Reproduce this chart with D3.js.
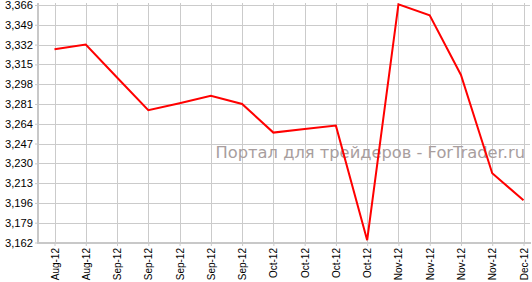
<!DOCTYPE html>
<html><head><meta charset="utf-8">
<script src="https://cdn.jsdelivr.net/npm/d3@7"></script>
<style>body{margin:0;background:#fff}svg{display:block}</style>
</head><body>
<script>
const categories = ["Aug-12","Aug-12","Sep-12","Sep-12","Sep-12","Sep-12","Sep-12","Oct-12","Oct-12","Oct-12","Oct-12","Nov-12","Nov-12","Nov-12","Nov-12","Dec-12"];
const values = [3328, 3332, 3303.7, 3275.6, 3281.6, 3288.1, 3281, 3256.4, 3259.4, 3262.4, 3164, 3366.5, 3357.2, 3305.9, 3221.5, 3198.3];
const yTicks = [3162,3179,3196,3213,3230,3247,3264,3281,3298,3315,3332,3349,3366];
const watermark = "Портал для трейдеров - ForTrader.ru";

const W = 532, H = 282;
const svg = d3.select("body").append("svg").attr("width", W).attr("height", H);
const x = d3.scalePoint().domain(d3.range(categories.length)).range([54.5, 523.5]);
const y = d3.scaleLinear().domain([3162, 3366]).range([242.5, 5]);
const grid = "#cbcbcb";
const font = "DejaVu Sans, Verdana, sans-serif";
const lblFont = "Liberation Sans, Arial, sans-serif";

// grid
svg.append("g").selectAll("line").data(yTicks).join("line")
  .attr("x1", 38).attr("x2", 530).attr("y1", d => Math.round(y(d)) + 0.5).attr("y2", d => Math.round(y(d)) + 0.5)
  .attr("stroke", grid).attr("stroke-width", 1);
svg.append("g").selectAll("line").data(d3.range(categories.length)).join("line")
  .attr("y1", 3).attr("y2", 243).attr("x1", d => Math.round(x(d)) + 0.5).attr("x2", d => Math.round(x(d)) + 0.5)
  .attr("stroke", grid).attr("stroke-width", 1);

// watermark
svg.append("text").attr("x", 525).attr("y", 158).attr("text-anchor", "end")
  .attr("font-family", font).attr("font-size", 16.3).attr("fill", "#a89e9e").text(watermark);

// y axis
const yAxis = d3.axisLeft(y).tickValues(yTicks).tickSize(3).tickPadding(2)
  .tickFormat(d => d3.format(",")(d));
const gy = svg.append("g").attr("transform", "translate(38,0)").call(yAxis);
gy.select(".domain").attr("stroke", "#c8c8c8").attr("stroke-width", 2).attr("d", "M0,3V243");
gy.selectAll(".tick line").attr("stroke", "#c8c8c8");
gy.selectAll("text").attr("font-family", lblFont).attr("font-size", 11.2).attr("fill", "#000");

// x axis
const xAxis = d3.axisBottom(x).tickSize(3).tickPadding(4).tickFormat(i => categories[i]);
const gx = svg.append("g").attr("transform", "translate(0,243)").call(xAxis);
gx.select(".domain").attr("stroke", "#c8c8c8").attr("stroke-width", 2).attr("d", "M37,0H531");
gx.selectAll(".tick line").attr("stroke", "#c8c8c8");
gx.selectAll("text").attr("font-family", lblFont).attr("font-size", 10).attr("fill", "#000")
  .attr("transform", "rotate(-90)").attr("text-anchor", "end").attr("dy", "0.35em").attr("x", -5).attr("y", 0);

// line
svg.append("path").datum(values)
  .attr("d", d3.line().x((d, i) => x(i)).y(d => y(d)))
  .attr("fill", "none").attr("stroke", "#ff0000").attr("stroke-width", 2).attr("stroke-linejoin", "miter");
</script>
</body></html>
